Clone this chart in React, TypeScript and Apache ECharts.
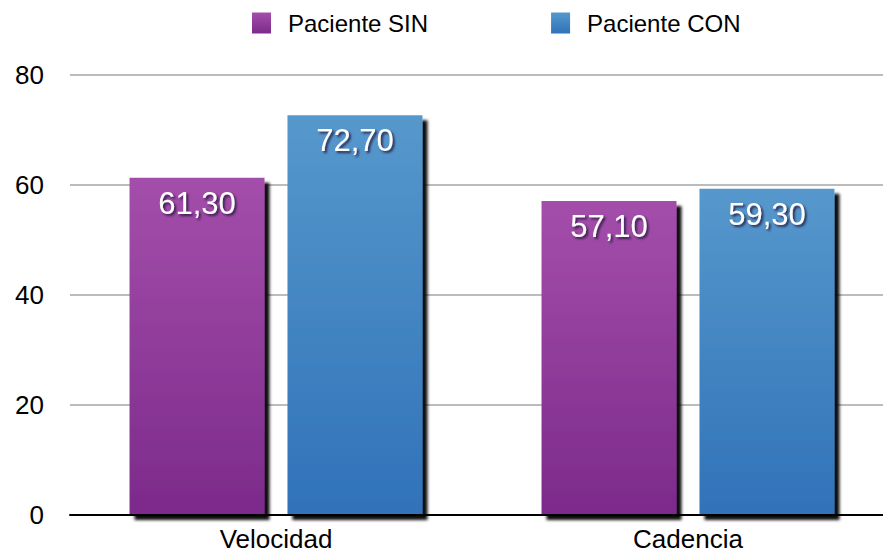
import React, { useEffect, useRef } from "react";
import * as echarts from "echarts";

const categories = ["Velocidad", "Cadencia"];
const seriesNames = ["Paciente SIN", "Paciente CON"];
const sinValues = [61.3, 57.1];
const conValues = [72.7, 59.3];
const yTicks = { min: 0, max: 80, interval: 20 };

const grad = (top: string, bottom: string) =>
  new echarts.graphic.LinearGradient(0, 0, 0, 1, [
    { offset: 0, color: top },
    { offset: 1, color: bottom },
  ]);

export default function App() {
  const ref = useRef<HTMLDivElement>(null);
  useEffect(() => {
    document.body.style.margin = "0";
    if (!ref.current) return;
    const chart = echarts.init(ref.current, null, { renderer: "svg" });
    const font = "Liberation Sans, Arial, sans-serif";
    const label = {
      show: true,
      position: "insideTop" as const,
      distance: 10,
      color: "#ffffff",
      fontSize: 31,
      fontFamily: font,
      textShadowColor: "rgba(40,20,60,0.85)",
      textShadowOffsetX: 2,
      textShadowOffsetY: 2,
      textShadowBlur: 2,
      formatter: (p: any) => p.value.toFixed(2).replace(".", ","),
    };
    const shadow = {
      shadowColor: "rgba(0,0,0,0.95)",
      shadowBlur: 3,
      shadowOffsetX: 5,
      shadowOffsetY: 5,
    };
    chart.setOption({
      animation: false,
      legend: {
        top: 11,
        left: 252,
        padding: 0,
        itemGap: 123,
        itemWidth: 19,
        itemHeight: 21,
        icon: "rect",
        textStyle: { fontSize: 24, fontFamily: font, color: "#000", padding: [0, 0, 0, 12] },
        data: seriesNames,
      },
      grid: { left: 70, top: 75, width: 824, height: 440, containLabel: false },
      xAxis: {
        type: "category",
        data: categories,
        axisTick: { show: false },
        axisLine: { lineStyle: { color: "#000", width: 2 } },
        axisLabel: { fontSize: 26, fontFamily: font, color: "#000", margin: 11 },
        z: 10,
      },
      yAxis: {
        type: "value",
        min: yTicks.min,
        max: yTicks.max,
        interval: yTicks.interval,
        axisLine: { show: false },
        axisTick: { show: false },
        axisLabel: { fontSize: 26, fontFamily: font, color: "#000", margin: 26 },
        splitLine: { lineStyle: { color: "#bcbcbc", width: 2 } },
      },
      series: [
        {
          name: seriesNames[0],
          type: "bar",
          data: sinValues,
          barWidth: 135,
          barGap: "17%",
          itemStyle: { color: grad("#a44eab", "#7c2a8b"), ...shadow },
          label,
        },
        {
          name: seriesNames[1],
          type: "bar",
          data: conValues,
          barWidth: 135,
          barGap: "17%",
          itemStyle: { color: grad("#5698cc", "#3072b8"), ...shadow },
          label,
        },
      ],
    });
    return () => chart.dispose();
  }, []);
  return (
    <div style={{ width: 883, height: 554, overflow: "hidden" }}>
      <div ref={ref} style={{ width: 900, height: 554 }} />
    </div>
  );
}
